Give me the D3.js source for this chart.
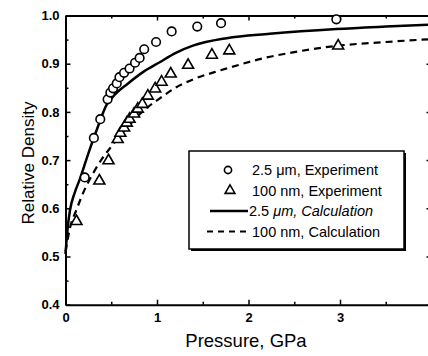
<!DOCTYPE html>
<html>
<head>
<meta charset="utf-8">
<script src="https://cdn.jsdelivr.net/npm/d3@7"></script>
<style>
  body { margin: 0; background: #fff; }
  svg { display: block; font-family: Arial, "Liberation Sans", sans-serif; }
</style>
</head>
<body>
<div class="main"></div>
<script>
// Chart parameters
const width = 428;
const height = 356;
const plot = { left: 65.5, top: 15.5, right: 431.5, bottom: 304.7 };

// 2.5 um, experiment (circles): [pressure GPa, relative density]
const expMicron = [
  [0.21, 0.664], [0.31, 0.746], [0.38, 0.785], [0.46, 0.826], [0.49, 0.840],
  [0.52, 0.849], [0.56, 0.859], [0.59, 0.872], [0.64, 0.881], [0.70, 0.890],
  [0.76, 0.902], [0.81, 0.912], [0.86, 0.930], [0.99, 0.945], [1.16, 0.967],
  [1.44, 0.977], [1.70, 0.984], [2.96, 0.992]
];

// 100 nm, experiment (triangles)
const expNano = [
  [0.12, 0.573], [0.37, 0.657], [0.47, 0.699], [0.57, 0.743], [0.60, 0.756],
  [0.64, 0.767], [0.67, 0.777], [0.70, 0.785], [0.75, 0.796], [0.79, 0.806],
  [0.84, 0.816], [0.90, 0.833], [0.98, 0.848], [1.05, 0.862], [1.15, 0.879],
  [1.34, 0.897], [1.60, 0.918], [1.79, 0.927], [2.98, 0.937]
];

// 2.5 um, calculation (solid line)
const calcMicron = [
  [0.00, 0.505], [0.01, 0.530], [0.03, 0.570], [0.05, 0.597], [0.10, 0.632],
  [0.16, 0.662], [0.25, 0.714], [0.34, 0.762], [0.45, 0.815], [0.55, 0.838],
  [0.67, 0.857], [0.85, 0.883], [1.03, 0.903], [1.20, 0.922], [1.40, 0.938],
  [1.76, 0.953], [2.23, 0.962], [2.96, 0.972], [3.50, 0.977], [4.00, 0.981]
];

// 100 nm, calculation (dashed line)
const calcNano = [
  [0.00, 0.510], [0.05, 0.560], [0.12, 0.597], [0.20, 0.635], [0.30, 0.672],
  [0.40, 0.703], [0.50, 0.728], [0.60, 0.752], [0.70, 0.773], [0.81, 0.795],
  [0.90, 0.810], [1.03, 0.828], [1.20, 0.850], [1.40, 0.868], [1.62, 0.882],
  [1.76, 0.890], [2.20, 0.913], [2.50, 0.924], [2.96, 0.937], [3.50, 0.945],
  [4.00, 0.951]
];

const xTicks = [0, 1, 2, 3];
const xMinor = [0.5, 1.5, 2.5, 3.5];
const yTicks = [0.4, 0.5, 0.6, 0.7, 0.8, 0.9, 1.0];
const yMinor = [0.45, 0.55, 0.65, 0.75, 0.85, 0.95];

const legendLabels = [
  { kind: 'circle', text: ['2.5 ', 'μm', ', Experiment'] },
  { kind: 'triangle', text: ['100 nm, Experiment'] },
  { kind: 'solid', text: ['2.5 ', 'μm', ', Calculation'] },
  { kind: 'dashed', text: ['100 nm, Calculation'] }
];

const svg = d3.select('.main')
  .append('svg')
  .attr('width', width)
  .attr('height', height);

const x = d3.scaleLinear().domain([0, 4]).range([plot.left, plot.right]);
const y = d3.scaleLinear().domain([0.4, 1.0]).range([plot.bottom, plot.top]);

// Axes (ticks inward)
function styleAxis(g) {
  g.select('.domain').attr('stroke', '#000').attr('stroke-width', 2);
  g.selectAll('.tick line').attr('stroke', '#000').attr('stroke-width', 1.5);
  g.selectAll('.tick text')
    .attr('fill', '#000')
    .style('font-size', '13px')
    .style('font-weight', 'bold');
}

svg.append('g')
  .attr('transform', `translate(0, ${plot.bottom})`)
  .call(d3.axisBottom(x).tickValues(xTicks).tickSize(-5).tickSizeOuter(0).tickPadding(8).tickFormat(d3.format('d')))
  .call(styleAxis);
svg.append('g')
  .attr('transform', `translate(0, ${plot.bottom})`)
  .call(d3.axisBottom(x).tickValues(xMinor).tickSize(-3).tickFormat(''))
  .call(g => g.select('.domain').remove())
  .call(styleAxis);

svg.append('g')
  .attr('transform', `translate(0, ${plot.top})`)
  .call(d3.axisTop(x).tickValues(xTicks).tickSize(-5).tickSizeOuter(0).tickFormat(''))
  .call(styleAxis);
svg.append('g')
  .attr('transform', `translate(0, ${plot.top})`)
  .call(d3.axisTop(x).tickValues(xMinor).tickSize(-3).tickFormat(''))
  .call(g => g.select('.domain').remove())
  .call(styleAxis);

svg.append('g')
  .attr('transform', `translate(${plot.left}, 0)`)
  .call(d3.axisLeft(y).tickValues(yTicks).tickSize(-5).tickSizeOuter(0).tickPadding(6).tickFormat(d3.format('.1f')))
  .call(styleAxis);
svg.append('g')
  .attr('transform', `translate(${plot.left}, 0)`)
  .call(d3.axisLeft(y).tickValues(yMinor).tickSize(-3).tickFormat(''))
  .call(g => g.select('.domain').remove())
  .call(styleAxis);

svg.append('g')
  .attr('transform', `translate(${plot.right}, 0)`)
  .call(d3.axisRight(y).tickValues(yTicks).tickSize(-5).tickSizeOuter(0).tickFormat(''))
  .call(styleAxis);

// Axis titles
svg.append('text')
  .attr('x', 246)
  .attr('y', 347)
  .attr('text-anchor', 'middle')
  .style('font-size', '18.5px')
  .text('Pressure, GPa');

svg.append('text')
  .attr('transform', `translate(34, 163) rotate(-90)`)
  .attr('text-anchor', 'middle')
  .style('font-size', '17px')
  .text('Relative Density');

// Curves
const line = d3.line()
  .x(d => x(d[0]))
  .y(d => y(d[1]))
  .curve(d3.curveMonotoneX);

svg.append('path')
  .datum(calcMicron)
  .attr('d', line)
  .attr('fill', 'none')
  .attr('stroke', '#000')
  .attr('stroke-width', 2.5);

svg.append('path')
  .datum(calcNano)
  .attr('d', line)
  .attr('fill', 'none')
  .attr('stroke', '#000')
  .attr('stroke-width', 2.2)
  .attr('stroke-dasharray', '7,5');

// Markers
const tri = d3.symbol().type(d3.symbolTriangle).size(52);

svg.append('g')
  .selectAll('circle')
  .data(expMicron)
  .enter()
  .append('circle')
  .attr('cx', d => x(d[0]))
  .attr('cy', d => y(d[1]))
  .attr('r', 4.3)
  .attr('fill', '#fff')
  .attr('stroke', '#000')
  .attr('stroke-width', 1.6);

svg.append('g')
  .selectAll('path')
  .data(expNano)
  .enter()
  .append('path')
  .attr('d', tri)
  .attr('transform', d => `translate(${x(d[0])}, ${y(d[1])})`)
  .attr('fill', '#fff')
  .attr('stroke', '#000')
  .attr('stroke-width', 1.6);

// Legend
const legend = svg.append('g').attr('transform', 'translate(189, 151)');
legend.append('rect')
  .attr('x', 2).attr('y', 2)
  .attr('width', 215).attr('height', 98)
  .attr('fill', '#000');
legend.append('rect')
  .attr('width', 215).attr('height', 98)
  .attr('fill', '#fff')
  .attr('stroke', '#000')
  .attr('stroke-width', 1.5);

const rows = legend.selectAll('g.row')
  .data(legendLabels)
  .enter()
  .append('g')
  .attr('class', 'row')
  .attr('transform', (d, i) => `translate(0, ${19 + i * 20.5})`);

rows.filter(d => d.kind === 'circle')
  .append('circle')
  .attr('cx', 39).attr('cy', 0).attr('r', 3.6)
  .attr('fill', '#fff').attr('stroke', '#000').attr('stroke-width', 1.6);

rows.filter(d => d.kind === 'triangle')
  .append('path')
  .attr('d', d3.symbol().type(d3.symbolTriangle).size(42))
  .attr('transform', 'translate(41, 0)')
  .attr('fill', '#fff').attr('stroke', '#000').attr('stroke-width', 1.6);

rows.filter(d => d.kind === 'solid' || d.kind === 'dashed')
  .append('line')
  .attr('x1', d => d.kind === 'solid' ? 21 : 18).attr('x2', 59)
  .attr('y1', 0).attr('y2', 0)
  .attr('stroke', '#000')
  .attr('stroke-width', d => d.kind === 'solid' ? 2.5 : 2.2)
  .attr('stroke-dasharray', d => d.kind === 'dashed' ? '6,5' : null);

rows.append('text')
  .attr('x', d => d.kind === 'solid' ? 60 : 63)
  .attr('y', 5)
  .style('font-size', '14.5px')
  .each(function (d) {
    const t = d3.select(this);
    d.text.forEach((s, i) => {
      const span = t.append('tspan').text(s);
      if (d.kind === 'solid' && i > 0) span.style('font-style', 'italic');
    });
  });
</script>
</body>
</html>
